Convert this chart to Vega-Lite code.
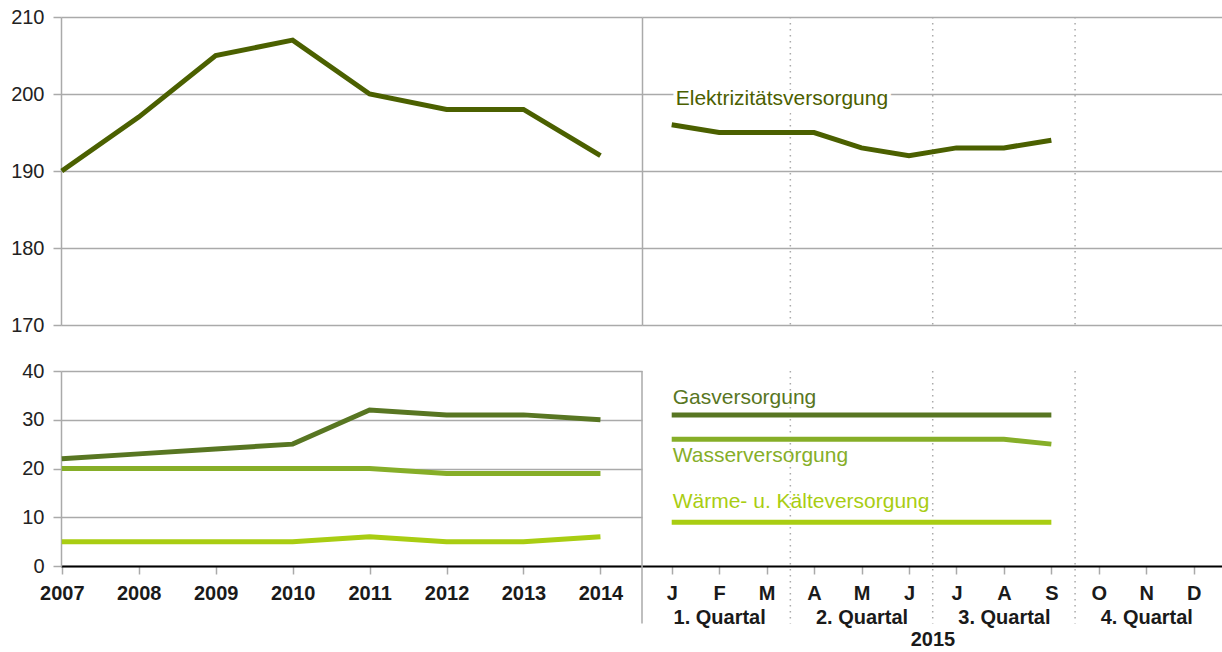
{
  "$schema": "https://vega.github.io/schema/vega-lite/v6.json",
  "padding": {"left": 10, "top": 7, "right": 0, "bottom": 0},
  "background": "white",
  "config": {
    "view": {"stroke": null},
    "font": "Liberation Sans",
    "text": {"font": "Liberation Sans"}
  },
  "datasets": {
    "years": [
      {"series": "Elektrizitätsversorgung", "year": 2007, "value": 190},
      {"series": "Elektrizitätsversorgung", "year": 2008, "value": 197},
      {"series": "Elektrizitätsversorgung", "year": 2009, "value": 205},
      {"series": "Elektrizitätsversorgung", "year": 2010, "value": 207},
      {"series": "Elektrizitätsversorgung", "year": 2011, "value": 200},
      {"series": "Elektrizitätsversorgung", "year": 2012, "value": 198},
      {"series": "Elektrizitätsversorgung", "year": 2013, "value": 198},
      {"series": "Elektrizitätsversorgung", "year": 2014, "value": 192},
      {"series": "Gasversorgung", "year": 2007, "value": 22},
      {"series": "Gasversorgung", "year": 2008, "value": 23},
      {"series": "Gasversorgung", "year": 2009, "value": 24},
      {"series": "Gasversorgung", "year": 2010, "value": 25},
      {"series": "Gasversorgung", "year": 2011, "value": 32},
      {"series": "Gasversorgung", "year": 2012, "value": 31},
      {"series": "Gasversorgung", "year": 2013, "value": 31},
      {"series": "Gasversorgung", "year": 2014, "value": 30},
      {"series": "Wasserversorgung", "year": 2007, "value": 20},
      {"series": "Wasserversorgung", "year": 2008, "value": 20},
      {"series": "Wasserversorgung", "year": 2009, "value": 20},
      {"series": "Wasserversorgung", "year": 2010, "value": 20},
      {"series": "Wasserversorgung", "year": 2011, "value": 20},
      {"series": "Wasserversorgung", "year": 2012, "value": 19},
      {"series": "Wasserversorgung", "year": 2013, "value": 19},
      {"series": "Wasserversorgung", "year": 2014, "value": 19},
      {"series": "Wärme- u. Kälteversorgung", "year": 2007, "value": 5},
      {"series": "Wärme- u. Kälteversorgung", "year": 2008, "value": 5},
      {"series": "Wärme- u. Kälteversorgung", "year": 2009, "value": 5},
      {"series": "Wärme- u. Kälteversorgung", "year": 2010, "value": 5},
      {"series": "Wärme- u. Kälteversorgung", "year": 2011, "value": 6},
      {"series": "Wärme- u. Kälteversorgung", "year": 2012, "value": 5},
      {"series": "Wärme- u. Kälteversorgung", "year": 2013, "value": 5},
      {"series": "Wärme- u. Kälteversorgung", "year": 2014, "value": 6}
    ],
    "months": [
      {"series": "Elektrizitätsversorgung", "m": 1, "value": 196},
      {"series": "Elektrizitätsversorgung", "m": 2, "value": 195},
      {"series": "Elektrizitätsversorgung", "m": 3, "value": 195},
      {"series": "Elektrizitätsversorgung", "m": 4, "value": 195},
      {"series": "Elektrizitätsversorgung", "m": 5, "value": 193},
      {"series": "Elektrizitätsversorgung", "m": 6, "value": 192},
      {"series": "Elektrizitätsversorgung", "m": 7, "value": 193},
      {"series": "Elektrizitätsversorgung", "m": 8, "value": 193},
      {"series": "Elektrizitätsversorgung", "m": 9, "value": 194},
      {"series": "Gasversorgung", "m": 1, "value": 31},
      {"series": "Gasversorgung", "m": 2, "value": 31},
      {"series": "Gasversorgung", "m": 3, "value": 31},
      {"series": "Gasversorgung", "m": 4, "value": 31},
      {"series": "Gasversorgung", "m": 5, "value": 31},
      {"series": "Gasversorgung", "m": 6, "value": 31},
      {"series": "Gasversorgung", "m": 7, "value": 31},
      {"series": "Gasversorgung", "m": 8, "value": 31},
      {"series": "Gasversorgung", "m": 9, "value": 31},
      {"series": "Wasserversorgung", "m": 1, "value": 26},
      {"series": "Wasserversorgung", "m": 2, "value": 26},
      {"series": "Wasserversorgung", "m": 3, "value": 26},
      {"series": "Wasserversorgung", "m": 4, "value": 26},
      {"series": "Wasserversorgung", "m": 5, "value": 26},
      {"series": "Wasserversorgung", "m": 6, "value": 26},
      {"series": "Wasserversorgung", "m": 7, "value": 26},
      {"series": "Wasserversorgung", "m": 8, "value": 26},
      {"series": "Wasserversorgung", "m": 9, "value": 25},
      {"series": "Wärme- u. Kälteversorgung", "m": 1, "value": 9},
      {"series": "Wärme- u. Kälteversorgung", "m": 2, "value": 9},
      {"series": "Wärme- u. Kälteversorgung", "m": 3, "value": 9},
      {"series": "Wärme- u. Kälteversorgung", "m": 4, "value": 9},
      {"series": "Wärme- u. Kälteversorgung", "m": 5, "value": 9},
      {"series": "Wärme- u. Kälteversorgung", "m": 6, "value": 9},
      {"series": "Wärme- u. Kälteversorgung", "m": 7, "value": 9},
      {"series": "Wärme- u. Kälteversorgung", "m": 8, "value": 9},
      {"series": "Wärme- u. Kälteversorgung", "m": 9, "value": 9}
    ],
    "labels": [
      {"series": "Elektrizitätsversorgung", "m": 1, "pos": 199.35},
      {"series": "Gasversorgung", "m": 1, "pos": 34.5},
      {"series": "Wasserversorgung", "m": 1, "pos": 22.6},
      {"series": "Wärme- u. Kälteversorgung", "m": 1, "pos": 13.1}
    ],
    "quarters": [{"m": 3.5}, {"m": 6.5}, {"m": 9.5}],
    "separator": [{"m": 0.374}]
  },
  "columns": 2,
  "spacing": {"row": 46, "column": 0},
  "bounds": "flush",
  "concat": [
    {
      "width": 581,
      "height": 308,
      "data": {"name": "years"},
      "transform": [{"filter": "datum.series == 'Elektrizitätsversorgung'"}],
      "mark": {"type": "line", "strokeWidth": 5, "strokeCap": "butt"},
      "encoding": {
        "x": {"field": "year", "type": "quantitative", "scale": {"domain": [2006.99, 2014.54], "nice": false, "zero": false}, "axis": null},
        "y": {"field": "value", "type": "quantitative", "scale": {"domain": [170, 210], "nice": false, "zero": false},
          "axis": {"values": [170, 180, 190, 200, 210], "title": null, "domainColor": "#aaaaaa", "domainWidth": 1.5, "gridColor": "#aaaaaa", "gridWidth": 1.5, "tickColor": "#aaaaaa", "tickWidth": 1.5, "tickSize": 8, "labelFontSize": 20, "labelColor": "#222222", "labelPadding": 9, "labelFont": "Liberation Sans"}},
        "color": {"field": "series", "type": "nominal", "legend": null,
          "scale": {"domain": ["Elektrizitätsversorgung", "Gasversorgung", "Wasserversorgung", "Wärme- u. Kälteversorgung"], "range": ["#4b6000", "#587622", "#86ae28", "#a9cd12"]}}
      }
    },
    {
      "width": 581,
      "height": 308,
      "encoding": {
        "x": {"field": "m", "type": "quantitative", "scale": {"domain": [0.374, 12.617], "nice": false, "zero": false}, "axis": null}
      },
      "layer": [
        {
          "data": {"name": "quarters"},
          "mark": {"type": "rule", "color": "#aaaaaa", "strokeWidth": 1.5, "strokeDash": [1.5, 4.5]},
          "encoding": {}
        },
        {
          "data": {"name": "months"},
          "transform": [{"filter": "datum.series == 'Elektrizitätsversorgung'"}],
          "mark": {"type": "line", "strokeWidth": 5, "strokeCap": "butt"},
          "encoding": {
            "y": {"field": "value", "type": "quantitative", "scale": {"domain": [170, 210], "nice": false, "zero": false},
              "axis": {"values": [170, 180, 190, 200, 210], "title": null, "labels": false, "ticks": false, "domainColor": "#aaaaaa", "domainWidth": 1.5, "gridColor": "#aaaaaa", "gridWidth": 1.5}},
            "color": {"field": "series", "type": "nominal", "legend": null}
          }
        },
        {
          "data": {"name": "labels"},
          "transform": [{"filter": "datum.series == 'Elektrizitätsversorgung'"}],
          "mark": {"type": "text", "align": "left", "baseline": "middle", "fontSize": 21, "dx": 4, "fill": "white", "stroke": "white", "strokeWidth": 8},
          "encoding": {
            "y": {"field": "pos", "type": "quantitative"},
            "text": {"field": "series"}
          }
        },
        {
          "data": {"name": "labels"},
          "transform": [{"filter": "datum.series == 'Elektrizitätsversorgung'"}],
          "mark": {"type": "text", "align": "left", "baseline": "middle", "fontSize": 21, "dx": 4},
          "encoding": {
            "y": {"field": "pos", "type": "quantitative"},
            "text": {"field": "series"},
            "color": {"field": "series", "type": "nominal", "legend": null}
          }
        }
      ]
    },
    {
      "width": 581,
      "height": 195,
      "data": {"name": "years"},
      "transform": [{"filter": "datum.series != 'Elektrizitätsversorgung'"}],
      "mark": {"type": "line", "strokeWidth": 5, "strokeCap": "butt"},
      "encoding": {
        "x": {"field": "year", "type": "quantitative", "scale": {"domain": [2006.99, 2014.54], "nice": false, "zero": false},
          "axis": {"values": [2007, 2008, 2009, 2010, 2011, 2012, 2013, 2014], "format": "d", "title": null, "labelFontSize": 20, "labelFontWeight": "bold", "labelColor": "#1a1a1a", "labelPadding": 9, "labelFlush": false, "labelOverlap": false, "tickColor": "#aaaaaa", "tickWidth": 1.5, "tickSize": 8, "domainColor": "#000000", "domainWidth": 2, "grid": false, "labelFont": "Liberation Sans"}},
        "y": {"field": "value", "type": "quantitative", "scale": {"domain": [0, 40], "nice": false, "zero": false},
          "axis": {"values": [0, 10, 20, 30, 40], "title": null, "domainColor": "#aaaaaa", "domainWidth": 1.5, "gridColor": "#aaaaaa", "gridWidth": 1.5, "tickColor": "#aaaaaa", "tickWidth": 1.5, "tickSize": 8, "labelFontSize": 20, "labelColor": "#222222", "labelPadding": 9, "labelFont": "Liberation Sans"}},
        "color": {"field": "series", "type": "nominal", "legend": null}
      }
    },
    {
      "width": 581,
      "height": 195,
      "encoding": {
        "x": {"field": "m", "type": "quantitative", "scale": {"domain": [0.374, 12.617], "nice": false, "zero": false},
          "axis": {"values": [1, 2, 3, 4, 5, 6, 7, 8, 9, 10, 11, 12],
            "labelExpr": "datum.value % 3 == 2 ? [['J','F','M','A','M','J','J','A','S','O','N','D'][datum.value - 1], (floor(datum.value / 3) + 1) + '. Quartal'] : ['J','F','M','A','M','J','J','A','S','O','N','D'][datum.value - 1]",
            "title": "2015", "titleFontSize": 20, "titleFontWeight": "bold", "titleColor": "#1a1a1a", "titlePadding": 2, "titleFont": "Liberation Sans",
            "labelFontSize": 20, "labelFontWeight": "bold", "labelColor": "#1a1a1a", "labelPadding": 9, "labelLineHeight": 24, "labelFlush": false, "labelOverlap": false, "labelFont": "Liberation Sans",
            "tickColor": "#aaaaaa", "tickWidth": 1.5, "tickSize": 8, "domainColor": "#000000", "domainWidth": 2, "grid": false}}
      },
      "layer": [
        {
          "data": {"name": "quarters"},
          "mark": {"type": "rule", "color": "#aaaaaa", "strokeWidth": 1.5, "strokeDash": [1.5, 4.5]},
          "encoding": {
            "y": {"datum": 40, "type": "quantitative"},
            "y2": {"datum": -11.8}
          }
        },
        {
          "data": {"name": "separator"},
          "mark": {"type": "rule", "color": "#aaaaaa", "strokeWidth": 1.5},
          "encoding": {
            "y": {"datum": 40, "type": "quantitative"},
            "y2": {"datum": -11.8}
          }
        },
        {
          "data": {"name": "months"},
          "transform": [{"filter": "datum.series != 'Elektrizitätsversorgung'"}],
          "mark": {"type": "line", "strokeWidth": 5, "strokeCap": "butt"},
          "encoding": {
            "y": {"field": "value", "type": "quantitative", "scale": {"domain": [0, 40], "nice": false, "zero": false},
              "axis": {"values": [0, 10, 20, 30, 40], "title": null, "labels": false, "ticks": false, "domain": false, "gridColor": "#aaaaaa", "gridWidth": 1.5}},
            "color": {"field": "series", "type": "nominal", "legend": null}
          }
        },
        {
          "data": {"name": "labels"},
          "transform": [{"filter": "datum.series != 'Elektrizitätsversorgung'"}],
          "mark": {"type": "text", "align": "left", "baseline": "middle", "fontSize": 21, "dx": 1},
          "encoding": {
            "y": {"field": "pos", "type": "quantitative"},
            "text": {"field": "series"},
            "color": {"field": "series", "type": "nominal", "legend": null}
          }
        }
      ]
    }
  ]
}
